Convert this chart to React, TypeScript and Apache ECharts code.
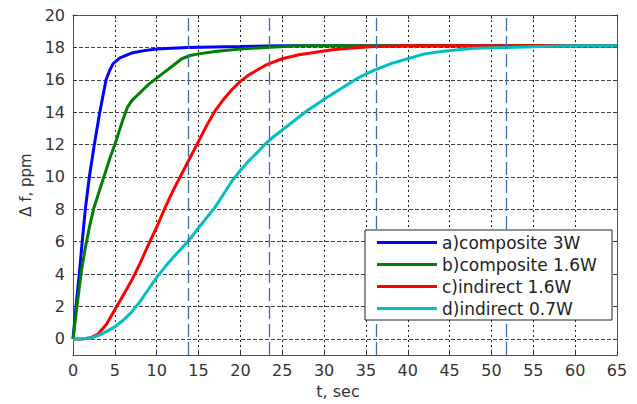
import React, { useEffect, useRef } from 'react';
import * as echarts from 'echarts';

const FONT = 'DejaVu Sans';

const seriesNames = ['a)composite 3W', 'b)composite 1.6W', 'c)indirect 1.6W', 'd)indirect 0.7W'];
const seriesColors = ['#0000ff', '#008000', '#ff0000', '#00bfbf'];

// a) composite 3W
const tA = [0, 0.36, 0.75, 1.1, 1.47, 1.95, 2.55, 3.2, 3.95, 4.4, 4.8, 5.6, 7, 8.5, 10, 13.6, 20, 25, 65];
const fA = [0, 2, 4, 6, 8, 10, 12, 14, 16, 16.6, 17.0, 17.35, 17.65, 17.8, 17.9, 18.0, 18.05, 18.1, 18.1];

// b) composite 1.6W
const tB = [0, 0.5, 1, 1.5, 2, 2.5, 3, 3.5, 4, 4.5, 5, 5.5, 6, 6.5, 7, 8, 9, 10, 11, 12, 13, 14, 15, 17, 20, 23, 27, 65];
const fB = [0, 2.1, 4.2, 5.7, 7.0, 8.1, 8.9, 9.7, 10.5, 11.3, 12.0, 12.8, 13.6, 14.3, 14.7, 15.2, 15.7, 16.1, 16.5, 16.9, 17.3, 17.5, 17.6, 17.75, 17.9, 18.0, 18.1, 18.1];

// c) indirect 1.6W
const tC = [0, 1, 2, 3, 4, 5, 6, 7, 8, 9, 10, 11, 12, 13, 14, 15, 16, 17, 18, 19, 20, 21, 22, 23, 24, 25, 27, 29, 31, 33, 36, 40, 65];
const fC = [0, 0, 0.05, 0.3, 0.9, 1.8, 2.7, 3.6, 4.65, 5.8, 6.9, 8.1, 9.2, 10.2, 11.2, 12.2, 13.2, 14.1, 14.8, 15.4, 15.9, 16.3, 16.6, 16.9, 17.1, 17.3, 17.55, 17.7, 17.85, 17.95, 18.05, 18.1, 18.1];

// d) indirect 0.7W
const tD = [0, 1, 2, 3, 4, 5, 6, 7, 8, 9, 10, 11, 12, 13, 14, 15, 16, 17, 18, 19, 20, 21, 22, 23, 24, 25, 26, 27, 28, 29, 30, 32, 34, 36, 38, 40, 42, 44, 46, 48, 52, 56, 60, 65];
const fD = [0, 0, 0.05, 0.2, 0.45, 0.75, 1.15, 1.65, 2.3, 3.05, 3.8, 4.45, 5.05, 5.6, 6.2, 6.85, 7.5, 8.15, 8.95, 9.75, 10.4, 11.0, 11.5, 12.05, 12.5, 12.9, 13.3, 13.7, 14.1, 14.45, 14.8, 15.45, 16.1, 16.6, 17.0, 17.3, 17.6, 17.75, 17.85, 17.95, 18.0, 18.05, 18.1, 18.1];

const seriesT = [tA, tB, tC, tD];
const seriesF = [fA, fB, fC, fD];

// vertical dashed marker lines (sec)
const markerTimes = [13.8, 23.5, 36.2, 51.8];

const yTickValues = [0, 2, 4, 6, 8, 10, 12, 14, 16, 18, 20];

export default function App() {
  const ref = useRef<HTMLDivElement>(null);
  useEffect(() => {
    document.body.style.margin = '0';
    const chart = echarts.init(ref.current!, null, { renderer: 'svg' });
    const labelStyle = { color: '#333', fontFamily: FONT, fontSize: 16 };
    const series: any[] = seriesNames.map((name, i) => ({
      type: 'line',
      name,
      data: seriesT[i].map((t, j) => [t, seriesF[i][j]]),
      showSymbol: false,
      symbol: 'none',
      lineStyle: { width: 3, color: seriesColors[i] },
      itemStyle: { color: seriesColors[i] },
      z: 3,
    }));
    series.push({
      type: 'line',
      name: 'markers',
      data: [],
      z: 4,
      markLine: {
        silent: true,
        symbol: ['none', 'none'],
        label: { show: false },
        lineStyle: { color: '#3d6cb0', width: 1.3, type: [13, 5] },
        data: markerTimes.map((t) => ({ xAxis: t })),
      },
    });
    chart.setOption({
      animation: false,
      backgroundColor: '#fff',
      grid: { left: 73, top: 15, right: 20, bottom: 48 },
      xAxis: [
        {
          type: 'value', min: 0, max: 65, interval: 5, position: 'bottom',
          axisLine: { show: true, onZero: false, lineStyle: { color: '#555' } },
          axisTick: { show: true, inside: true, length: 4, lineStyle: { color: '#333' } },
          axisLabel: { ...labelStyle, margin: 7 },
          splitLine: { show: true, lineStyle: { color: '#222', type: [2, 3], width: 1 } },
          name: 't, sec', nameLocation: 'middle', nameGap: 26,
          nameTextStyle: { ...labelStyle, padding: [0, 14, 0, 0] },
        },
        {
          type: 'value', min: 0, max: 65, interval: 5, position: 'top',
          axisLine: { show: true, onZero: false, lineStyle: { color: '#555' } },
          axisTick: { show: true, inside: true, length: 4, lineStyle: { color: '#333' } },
          axisLabel: { show: false },
          splitLine: { show: false },
        },
      ],
      yAxis: [
        {
          type: 'value', min: -1, max: 20, position: 'left',
          axisLine: { show: true, onZero: false, lineStyle: { color: '#555' } },
          axisTick: { show: true, inside: true, length: 4, customValues: yTickValues, lineStyle: { color: '#333' } },
          axisLabel: { ...labelStyle, margin: 8, customValues: yTickValues },
          splitLine: { show: true, lineStyle: { color: '#444', type: [4, 2], width: 1 } },
          name: 'Δ f, ppm', nameLocation: 'middle', nameGap: 40,
          nameTextStyle: { ...labelStyle, fontSize: 15 },
        },
        {
          type: 'value', min: -1, max: 20, position: 'right',
          axisLine: { show: true, onZero: false, lineStyle: { color: '#555' } },
          axisTick: { show: true, inside: true, length: 4, customValues: yTickValues, lineStyle: { color: '#333' } },
          axisLabel: { show: false, customValues: yTickValues },
          splitLine: { show: false },
        },
      ],
      legend: {
        orient: 'vertical', left: 377, top: 234, itemWidth: 60, itemHeight: 3, itemGap: 5,
        icon: 'rect',
        padding: 0, data: seriesNames, selectedMode: false, z: 10,
        textStyle: { fontFamily: FONT, fontSize: 17, color: '#222', lineHeight: 16 },
      },
      graphic: [
        {
          type: 'rect', z: 6,
          shape: { x: 365, y: 230, width: 247, height: 90 },
          style: { fill: '#fff', stroke: '#222', lineWidth: 1 },
        },
      ],
      series,
    });
    return () => chart.dispose();
  }, []);
  return <div ref={ref} style={{ width: 637, height: 404 }} />;
}
